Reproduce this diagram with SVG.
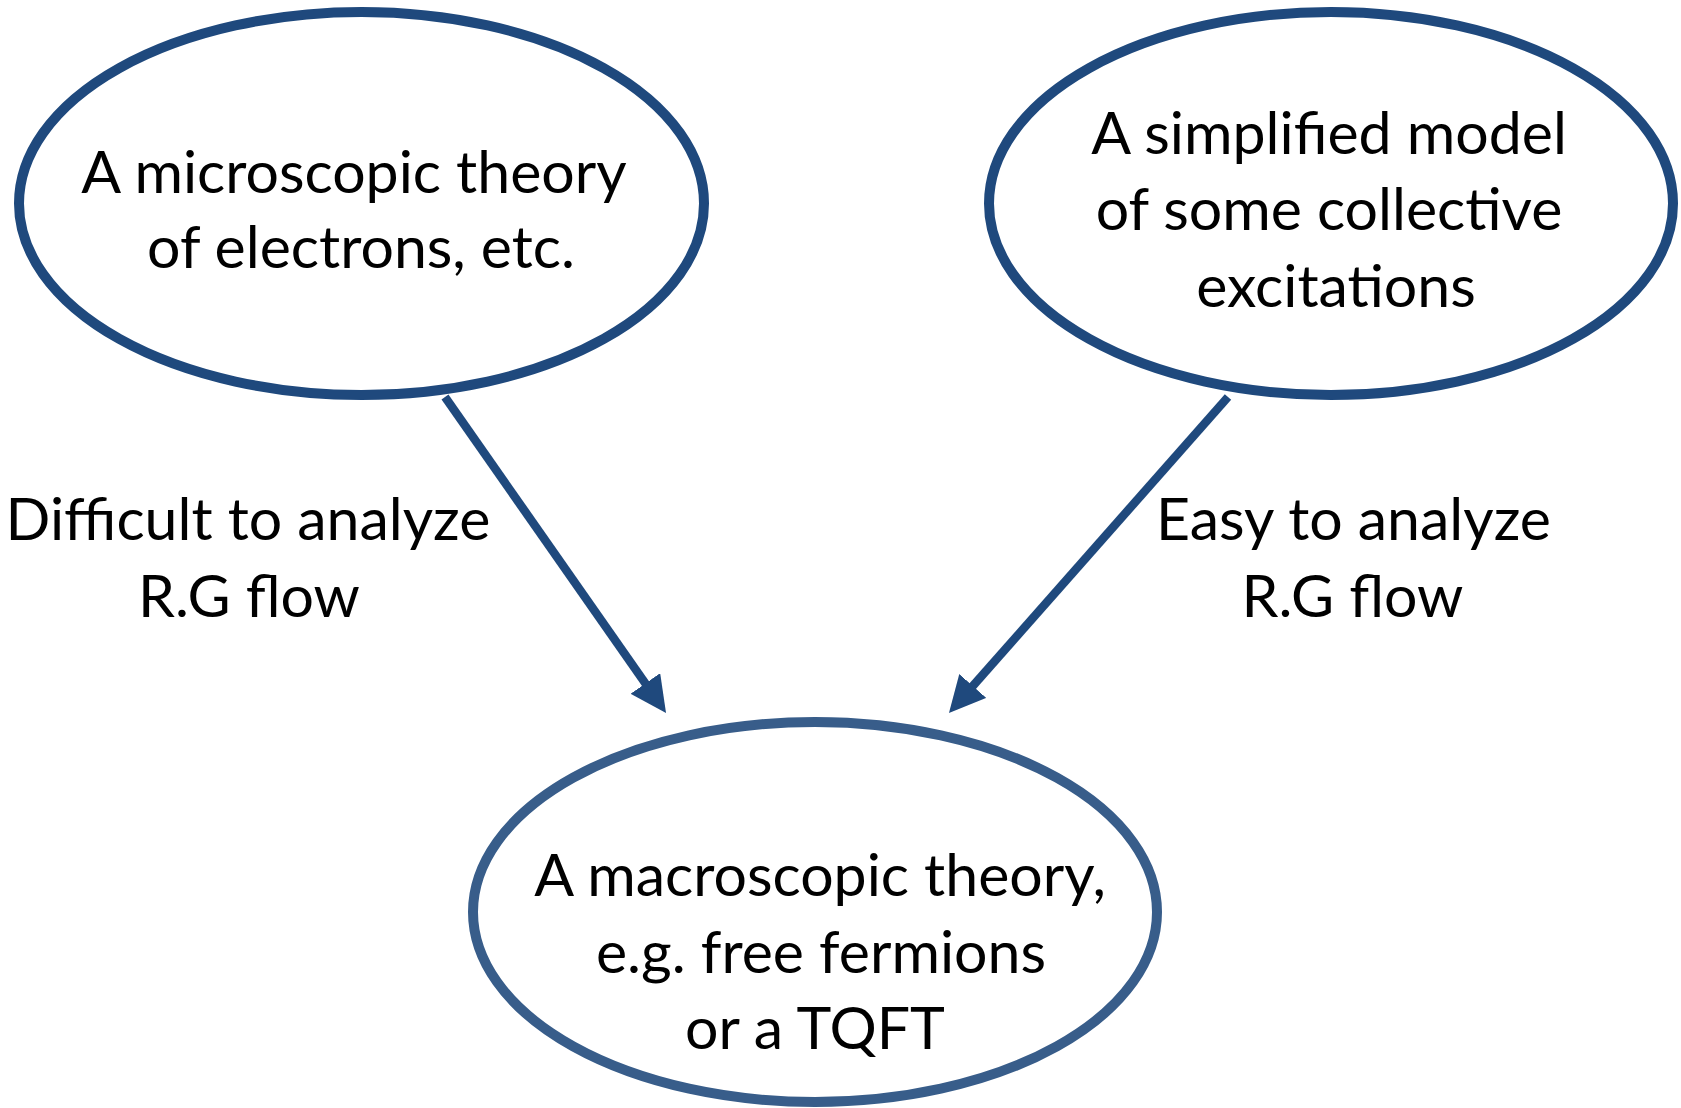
<svg xmlns="http://www.w3.org/2000/svg" width="1681" height="1108" viewBox="0 0 1681 1108">
<style>
  .node { fill: #FFFFFF; stroke-width: 10; }
  .top { stroke: #1F497D; }
  .bottom { stroke: #385D8A; }
  .t { font-family: Lato, "Open Sans", "Liberation Sans", sans-serif; font-size: 59px; fill: #000000; text-anchor: middle; }
  .edge { stroke: #1F497D; stroke-width: 8.5; fill: none; }
</style>
<defs>
  <marker id="arrow" markerUnits="userSpaceOnUse" markerWidth="36" markerHeight="36" viewBox="0 0 32 32" refX="20" refY="16" orient="auto">
    <path d="M0,0 L32,16 L0,32 Z" fill="#1F497D"/>
  </marker>
</defs>
<rect width="1681" height="1108" fill="#FFFFFF"/>
<g id="node-micro">
  <ellipse class="node top" cx="361.5" cy="203.5" rx="342.5" ry="191.5"/>
  <text class="t" x="354" y="193">A microscopic theory</text>
  <text class="t" x="361" y="268">of electrons, etc.</text>
</g>
<g id="node-simplified">
  <ellipse class="node top" cx="1331" cy="203.5" rx="342" ry="191.5"/>
  <text class="t" x="1329" y="154">A simplified model</text>
  <text class="t" x="1329" y="230">of some collective</text>
  <text class="t" x="1336" y="307">excitations</text>
</g>
<g id="node-macro">
  <ellipse class="node bottom" cx="815" cy="912" rx="342" ry="190"/>
  <text class="t" x="820" y="896">A macroscopic theory,</text>
  <text class="t" x="821" y="973">e.g. free fermions</text>
  <text class="t" x="815" y="1049">or a TQFT</text>
</g>
<g id="connectors">
  <line class="edge" x1="445" y1="397" x2="658.3" y2="701.9" marker-end="url(#arrow)"/>
  <line class="edge" x1="1228" y1="397" x2="957.9" y2="702.9" marker-end="url(#arrow)"/>
</g>
<g id="labels">
  <text class="t" x="248" y="540">Difficult to analyze</text>
  <text class="t" x="249" y="617">R.G flow</text>
  <text class="t" x="1353.5" y="540">Easy to analyze</text>
  <text class="t" x="1352.5" y="617">R.G flow</text>
</g>
</svg>
